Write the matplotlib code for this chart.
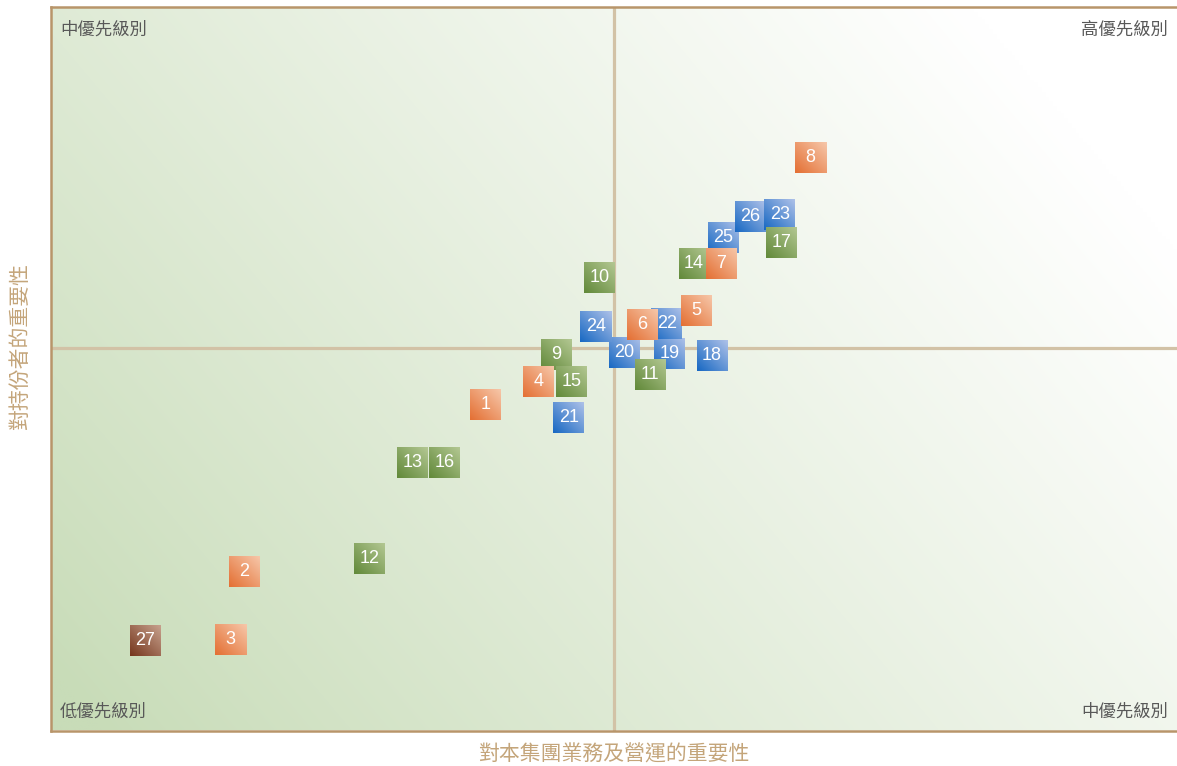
import numpy as np
import matplotlib
matplotlib.use("Agg")
import matplotlib.pyplot as plt

plt.rcParams['font.family'] = ['Noto Sans CJK TC', 'DejaVu Sans']

# ---- data (x: importance to group operations, y: importance to stakeholders) ----
orange_ids = [1, 2, 3, 4, 5, 6, 7, 8]
orange_x = [3.86, 1.72, 1.60, 4.33, 5.73, 5.25, 5.95, 6.74]
orange_y = [4.51, 2.20, 1.26, 4.82, 5.81, 5.61, 6.45, 7.92]

green_ids = [9, 10, 11, 12, 13, 14, 15, 16, 17]
green_x = [4.49, 4.87, 5.32, 2.83, 3.21, 5.71, 4.62, 3.50, 6.49]
green_y = [5.20, 6.26, 4.92, 2.38, 3.70, 6.45, 4.82, 3.70, 6.75]

blue_ids = [18, 19, 20, 21, 22, 24, 25, 26, 23]
blue_x = [5.87, 5.49, 5.09, 4.60, 5.47, 4.84, 5.97, 6.21, 6.47]
blue_y = [5.18, 5.21, 5.23, 4.33, 5.62, 5.58, 6.81, 7.10, 7.13]

brown_ids = [27]
brown_x = [0.84]
brown_y = [1.25]

x_mid = 5.0
y_mid = 5.287
x_lim = (0, 10)
y_lim = (0, 10)

quadrant_labels = ["中優先級別", "高優先級別", "低優先級別", "中優先級別"]
x_label = "對本集團業務及營運的重要性"
y_label = "對持份者的重要性"

# ---- figure ----
W, H, DPI = 1177, 766, 100
fig = plt.figure(figsize=(W / DPI, H / DPI), dpi=DPI)
ax = fig.add_axes([50.5 / W, (H - 730.5) / H, 1127 / W, 723.5 / H])
ax.set_xlim(*x_lim)
ax.set_ylim(*y_lim)

# background gradient (green bottom-left -> white top-right)
n = 300
gx, gy = np.meshgrid(np.linspace(0, 1, n), np.linspace(0, 1, n))
t = 0.65 * gx + 0.35 * gy
f = np.clip((t - 0.03) / 0.85, 0, 1) ** 0.9
c0 = np.array([200, 220, 184]) / 255
c1 = np.array([255, 255, 255]) / 255
bg = c0[None, None, :] + (c1 - c0)[None, None, :] * f[..., None]
ax.imshow(bg, extent=[*x_lim, *y_lim], origin='lower', aspect='auto',
          zorder=0, interpolation='bilinear')

# quadrant lines
line_col = '#D2C2A6'
ax.axvline(x_mid, color=line_col, lw=2.3, zorder=1)
ax.axhline(y_mid, color=line_col, lw=2.3, zorder=1)

# spines
spine_col = '#B8956A'
for s in ['left', 'bottom', 'top']:
    ax.spines[s].set_color(spine_col)
    ax.spines[s].set_linewidth(1.8)
ax.spines['right'].set_visible(False)
ax.set_xticks([])
ax.set_yticks([])

# marker size in data units (31 px square)
fig.canvas.draw()
inv = ax.transData.inverted()
p0 = inv.transform((0, 0))
p1 = inv.transform((31, 31))
hw = (p1[0] - p0[0]) / 2
hh = (p1[1] - p0[1]) / 2

def grad_img(dark, light, m=24):
    dark = np.array(dark) / 255
    light = np.array(light) / 255
    ix, iy = np.meshgrid(np.arange(m), np.arange(m))
    tt = (ix + iy) / (2 * (m - 1))
    return dark[None, None, :] + (light - dark)[None, None, :] * tt[..., None]

series = [
    (blue_ids, blue_x, blue_y, (25, 105, 195), (172, 192, 232)),
    (green_ids, green_x, green_y, (98, 138, 58), (178, 198, 145)),
    (orange_ids, orange_x, orange_y, (228, 112, 52), (246, 198, 168)),
    (brown_ids, brown_x, brown_y, (118, 55, 30), (198, 160, 140)),
]

z = 3
for ids, xs, ys, dark, light in series:
    img = grad_img(dark, light)
    for i, x, y in zip(ids, xs, ys):
        ax.imshow(img, extent=[x - hw, x + hw, y - hh, y + hh], origin='lower',
                  aspect='auto', interpolation='bilinear', zorder=z)
        ax.text(x, y, str(i), color='white', fontsize=13, ha='center',
                va='center', family=['Liberation Sans', 'DejaVu Sans'],
                zorder=z + 0.5)
        z += 1
ax.set_xlim(*x_lim)
ax.set_ylim(*y_lim)

# quadrant labels
qcol = '#585858'
qfs = 12.5
dx = 9.5 / 1127
ax.text(dx, 1 - 23 / 723.5, quadrant_labels[0], transform=ax.transAxes,
        ha='left', va='center', color=qcol, fontsize=qfs, style='italic', zorder=100)
ax.text(1 - dx, 1 - 23 / 723.5, quadrant_labels[1], transform=ax.transAxes,
        ha='right', va='center', color=qcol, fontsize=qfs, style='italic', zorder=100)
ax.text(dx, 18.5 / 723.5, quadrant_labels[2], transform=ax.transAxes,
        ha='left', va='center', color=qcol, fontsize=qfs, style='italic', zorder=100)
ax.text(1 - dx, 18.5 / 723.5, quadrant_labels[3], transform=ax.transAxes,
        ha='right', va='center', color=qcol, fontsize=qfs, style='italic', zorder=100)

lab_col = '#C4A57A'
fig.text(614 / W, 1 - 755 / H, x_label, ha='center', va='center', color=lab_col, fontsize=15)
fig.text(20 / W, 1 - 347 / H, y_label, ha='center', va='center', color=lab_col,
         fontsize=15, rotation=90)

fig.savefig('out.png', dpi=DPI)
